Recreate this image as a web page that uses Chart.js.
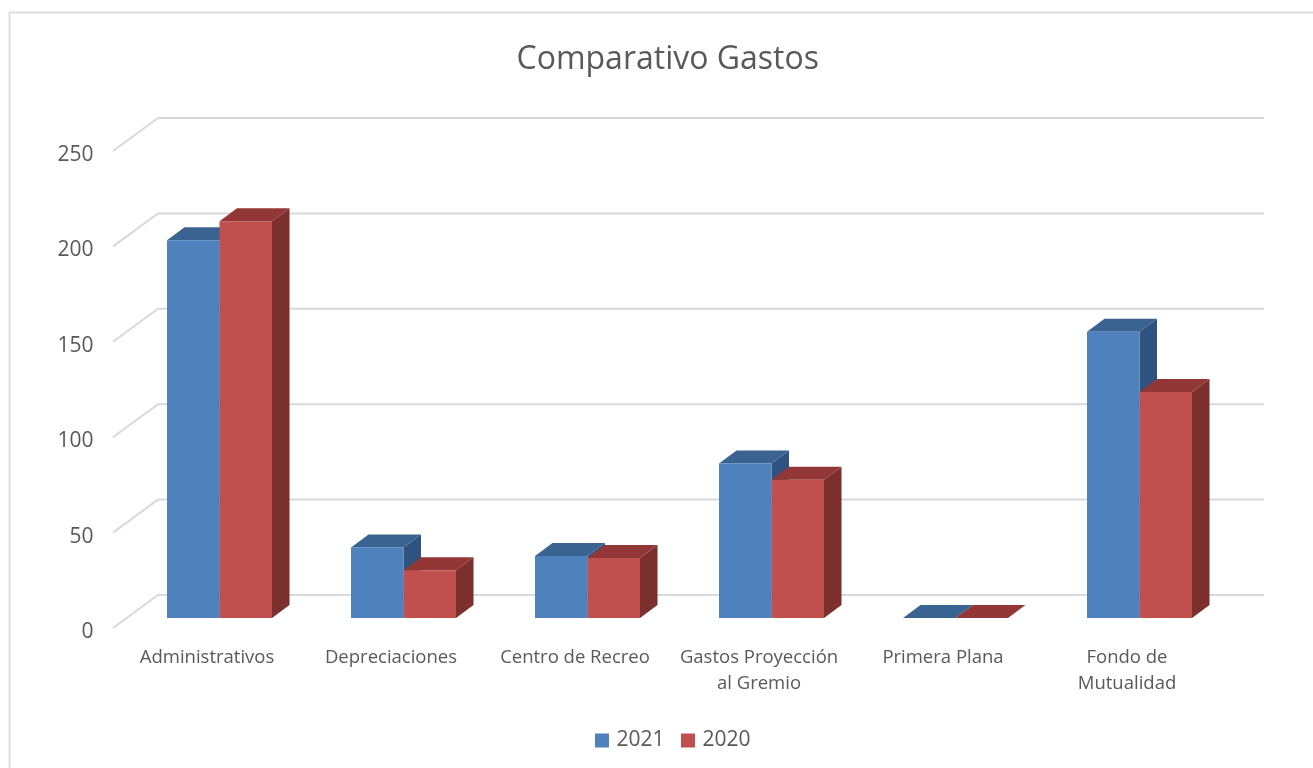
<!DOCTYPE html>
<html>
<head>
<meta charset="utf-8">
<title>Comparativo Gastos</title>
<script src="https://cdn.jsdelivr.net/npm/chart.js@4/dist/chart.umd.js"></script>
<style>
  html, body { margin: 0; padding: 0; background: #fff; overflow: hidden; }
  canvas { display: block; }
</style>
</head>
<body>
<canvas id="myChart" width="1313" height="768"></canvas>
<script>
var categories = [
  "Administrativos",
  "Depreciaciones",
  "Centro de Recreo",
  ["Gastos Proyección", "al Gremio"],
  "Primera Plana",
  ["Fondo de", "Mutualidad"],
];
var values2021 = [198, 37, 32.5, 81, 0, 150];
var values2020 = [208, 25, 31.5, 72.5, 0, 118.5];
var yTicks = [0, 50, 100, 150, 200, 250];

var textColor = "#595959";
var gridColor = "#D9D9D9";
var depthX = 17.5;
var depthY = 13;

// side and top faces of the 3d bars, per dataset
var faceColors = [
  { side: "#2F5381", top: "#3B6391" },
  { side: "#7C302E", top: "#923736" },
];

function poly(ctx, pts, color) {
  ctx.fillStyle = color;
  ctx.beginPath();
  ctx.moveTo(pts[0][0], pts[0][1]);
  for (var i = 1; i < pts.length; i++) ctx.lineTo(pts[i][0], pts[i][1]);
  ctx.closePath();
  ctx.fill();
}

var frame3d = {
  id: "frame3d",
  afterLayout: function (chart) {
    // title and legend are centred on the plot, not on the canvas
    chart.titleBlock.left += 52;
    chart.titleBlock.right += 52;
    chart.legend.left += 58.5;
    chart.legend.right += 58.5;
    chart.legend.top -= 7;
    chart.legend.bottom -= 7;
  },
  beforeDraw: function (chart) {
    var ctx = chart.ctx;
    ctx.save();
    ctx.strokeStyle = "#DDDDDD";
    ctx.lineWidth = 2;
    ctx.beginPath();
    ctx.moveTo(9.5, 768);
    ctx.lineTo(9.5, 12.5);
    ctx.lineTo(1313, 12.5);
    ctx.stroke();
    ctx.restore();
  },
  beforeDatasetsDraw: function (chart) {
    var ctx = chart.ctx;
    var y = chart.scales.y;
    ctx.save();
    // grid goes across the floor/side wall and then along the back wall
    ctx.strokeStyle = gridColor;
    ctx.lineWidth = 2;
    yTicks.forEach(function (v) {
      var py = y.getPixelForValue(v);
      ctx.beginPath();
      ctx.moveTo(113, py + 10);
      ctx.lineTo(158, py - 23);
      ctx.lineTo(1264, py - 23);
      ctx.stroke();
    });
    chart.data.datasets.forEach(function (ds, i) {
      var colors = faceColors[i];
      chart.getDatasetMeta(i).data.forEach(function (bar) {
        var left = bar.x - bar.width / 2;
        var right = bar.x + bar.width / 2;
        poly(ctx, [[right, bar.y], [right + depthX, bar.y - depthY], [right + depthX, bar.base - depthY], [right, bar.base]], colors.side);
        poly(ctx, [[left, bar.y], [left + depthX, bar.y - depthY], [right + depthX, bar.y - depthY], [right, bar.y]], colors.top);
      });
    });
    ctx.restore();
  },
};

var myChart = new Chart(document.getElementById("myChart").getContext("2d"), {
  type: "bar",
  data: {
    labels: categories,
    datasets: [
      { label: "2021", data: values2021, backgroundColor: "#4F81BD" },
      { label: "2020", data: values2020, backgroundColor: "#C0504D" },
    ],
  },
  plugins: [frame3d],
  options: {
    responsive: false,
    animation: false,
    layout: { padding: { right: 81.5 } },
    datasets: { bar: { categoryPercentage: 105 / 184, barPercentage: 1 } },
    scales: {
      x: {
        grid: { display: false },
        border: { display: false },
        afterFit: function (scale) { scale.height = 99.5; },
        ticks: {
          color: textColor,
          font: { family: "Open Sans", size: 18.5, lineHeight: 1.4 },
          labelOffset: -12.5,
          padding: 19,
          maxRotation: 0,
          autoSkip: false,
        },
      },
      y: {
        min: 0,
        max: 250,
        afterFit: function (scale) { scale.width = 127.5; },
        afterBuildTicks: function (scale) {
          scale.ticks = yTicks.map(function (v) { return { value: v }; });
        },
        grid: { display: false },
        border: { display: false },
        ticks: {
          color: textColor,
          font: { family: "Open Sans", size: 21 },
          labelOffset: 14,
          padding: 26,
        },
      },
    },
    plugins: {
      tooltip: { enabled: false },
      title: {
        display: true,
        text: "Comparativo Gastos",
        color: textColor,
        font: { family: "Open Sans", size: 32, weight: "normal" },
        padding: { top: 41, bottom: 61.6 },
      },
      legend: {
        position: "bottom",
        labels: {
          color: textColor,
          font: { family: "Open Sans", size: 21 },
          boxWidth: 8,
          boxHeight: 8,
          padding: 19.5,
          // thick outline makes the swatch 14px while keeping the text close to it
          generateLabels: function (chart) {
            return Chart.defaults.plugins.legend.labels.generateLabels(chart).map(function (item) {
              item.strokeStyle = item.fillStyle;
              item.lineWidth = 6;
              return item;
            });
          },
        },
      },
    },
  },
});
</script>
</body>
</html>
